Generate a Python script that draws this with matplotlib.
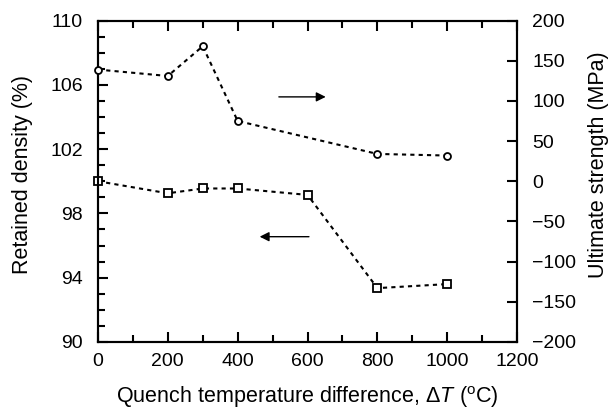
import matplotlib
matplotlib.use("Agg")
import matplotlib.pyplot as plt
from matplotlib.ticker import MultipleLocator

plt.rcParams['font.family'] = ['Liberation Sans', 'DejaVu Sans']
plt.rcParams['mathtext.fontset'] = 'custom'
plt.rcParams['mathtext.rm'] = 'Liberation Sans'
plt.rcParams['mathtext.it'] = 'Liberation Sans:italic'

# data
temp_density = [0, 200, 300, 400, 600, 800, 1000]
density = [100.0, 99.25, 99.55, 99.55, 99.15, 93.35, 93.6]   # retained density (%)

temp_strength = [0, 200, 300, 400, 800, 1000]
strength = [139, 131, 168, 75, 34, 32]                          # ultimate strength (MPa)

density_ticks = [90, 94, 98, 102, 106, 110]
strength_ticks = [-200, -150, -100, -50, 0, 50, 100, 150, 200]

fig = plt.figure(figsize=(6.12, 4.11), dpi=100)
ax = fig.add_axes([0.160, 0.168, 0.685, 0.782])
ax2 = ax.twinx()

ax.plot(temp_density, density, color='black', ls=(0, (2, 2)), lw=1.5,
        marker='s', ms=6, mfc='white', mec='black', mew=1.3, clip_on=False, zorder=5)
ax2.plot(temp_strength, strength, color='black', ls=(0, (2, 2)), lw=1.5,
         marker='o', ms=5, mfc='white', mec='black', mew=1.3, clip_on=False, zorder=5)

ax.set_xlim(0, 1200)
ax.set_ylim(90, 110)

ax.xaxis.set_major_locator(MultipleLocator(200))
ax.xaxis.set_minor_locator(MultipleLocator(100))
ax.set_yticks(density_ticks)
ax.yaxis.set_minor_locator(MultipleLocator(1))

fs = 14
lfs = 15.5
ax.tick_params(axis='both', which='both', direction='in', labelsize=fs, top=True, width=1.5)
ax.tick_params(axis='x', which='major', length=7, pad=8)
ax.tick_params(axis='y', which='major', length=7, pad=11)
ax.tick_params(axis='both', which='minor', length=5)
ax.tick_params(axis='y', which='both', right=False)
ax2.set_yticks(strength_ticks)
ax2.set_yticklabels([str(v).replace('-', '\u2212') for v in strength_ticks])
ax2.set_ylim(-200, 200)
ax2.tick_params(axis='y', direction='in', length=7, width=1.5, labelsize=fs, pad=11)

for a in (ax, ax2):
    for s in a.spines.values():
        s.set_linewidth(1.5)

ax.set_xlabel(r'Quench temperature difference, $\Delta$$T$ ($^{\rm o}$C)', fontsize=lfs)
ax.set_ylabel('Retained density (%)', fontsize=lfs)
ax2.set_ylabel('Ultimate strength (MPa)', fontsize=lfs)
ax.xaxis.set_label_coords(0.5, -0.13)
ax.yaxis.set_label_coords(-0.155, 0.52)
ax2.yaxis.set_label_coords(1.17, 0.55)

# direction arrows
ax.annotate('', xy=(660, 105.25), xytext=(510, 105.25),
            arrowprops=dict(arrowstyle='-|>', color='black', lw=1, mutation_scale=14))
ax.annotate('', xy=(455, 96.55), xytext=(612, 96.55),
            arrowprops=dict(arrowstyle='-|>', color='black', lw=1, mutation_scale=14))

fig.savefig('out.png', dpi=100)
